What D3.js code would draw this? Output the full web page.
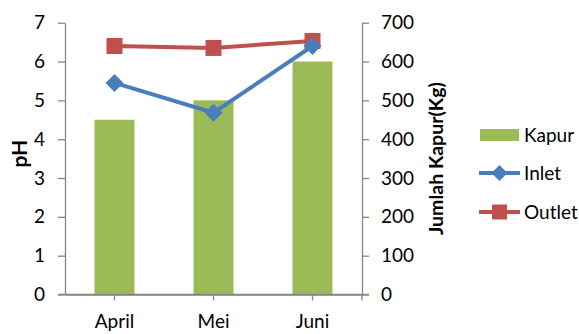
<!DOCTYPE html>
<html><head><meta charset="utf-8">
<script src="https://cdn.jsdelivr.net/npm/d3@7"></script>
<style>body{margin:0;background:#fff}svg{display:block}text{font-family:Lato,"Open Sans",sans-serif;fill:#000}</style>
</head><body><svg id="c" width="579" height="334"></svg>
<script>
const categories = ["April", "Mei", "Juni"];
const kapur = [450, 500, 600];
const inlet = [5.45, 4.68, 6.4];
const outlet = [6.4, 6.35, 6.53];
const phTicks = [0, 1, 2, 3, 4, 5, 6, 7];
const kgTicks = [0, 100, 200, 300, 400, 500, 600, 700];

const svg = d3.select("#c");
const L = 65, R = 362, T = 22.7, B = 294.5;
const x = d3.scaleBand().domain(categories).range([L, R]);
const yL = d3.scaleLinear().domain([0, 7]).range([B, T]);
const yR = d3.scaleLinear().domain([0, 700]).range([B, T]);
const grey = "#868686";
const fs = 19;

// bars
const bw = 40;
svg.selectAll("rect.bar").data(kapur).enter().append("rect")
  .attr("x", (d, i) => x(categories[i]) + x.bandwidth() / 2 - bw / 2)
  .attr("y", d => yR(d)).attr("width", bw).attr("height", d => B - yR(d))
  .attr("fill", "#9BBB59");

// axes
const axL = svg.append("g").attr("transform", `translate(${L},0)`)
  .call(d3.axisLeft(yL).tickValues(phTicks).tickFormat(d3.format("d")).tickSize(7).tickSizeOuter(0).tickPadding(13));
const axR = svg.append("g").attr("transform", `translate(${R},0)`)
  .call(d3.axisRight(yR).tickValues(kgTicks).tickFormat(d3.format("d")).tickSize(7).tickSizeOuter(0).tickPadding(12));
const axB = svg.append("g").attr("transform", `translate(0,${B})`)
  .call(d3.axisBottom(x).tickSize(6).tickSizeOuter(0).tickPadding(14));
[axL, axR, axB].forEach(g => {
  g.select(".domain").attr("stroke", grey).attr("stroke-width", 1.3);
  g.selectAll(".tick line").attr("stroke", grey).attr("stroke-width", 1.3);
  g.selectAll("text").attr("font-size", fs).attr("font-family", "Lato").attr("fill", "#000");
});
// extend x axis to tick ends
svg.append("line").attr("x1", L - 7).attr("x2", R + 7).attr("y1", B).attr("y2", B)
  .attr("stroke", grey).attr("stroke-width", 1.3);
svg.append("line").attr("x1", R).attr("x2", R).attr("y1", B).attr("y2", B + 6)
  .attr("stroke", grey).attr("stroke-width", 1.3);

// axis titles
svg.append("text").attr("transform", `translate(20,${(T + B) / 2 - 5}) rotate(-90)`)
  .attr("text-anchor", "middle").attr("dy", "0.35em").attr("font-size", 21).attr("font-weight", "bold").text("pH");
svg.append("text").attr("transform", `translate(436,${(T + B) / 2}) rotate(-90)`)
  .attr("text-anchor", "middle").attr("dy", "0.35em").attr("font-size", 19.5).attr("font-weight", "bold").text("Jumlah Kapur(Kg)");

// lines
const cx = i => x(categories[i]) + x.bandwidth() / 2;
const line = d3.line().x((d, i) => cx(i)).y(d => yL(d));
const diamond = h => `M0,${-h}L${h},0L0,${h}L${-h},0Z`;
svg.append("path").datum(outlet).attr("d", line).attr("fill", "none")
  .attr("stroke", "#C0504D").attr("stroke-width", 4);
svg.selectAll("rect.om").data(outlet).enter().append("rect")
  .attr("x", (d, i) => cx(i) - 8).attr("y", d => yL(d) - 8).attr("width", 16).attr("height", 16)
  .attr("fill", "#C0504D");
svg.append("path").datum(inlet).attr("d", line).attr("fill", "none")
  .attr("stroke", "#4A7EBB").attr("stroke-width", 4);
svg.selectAll("path.im").data(inlet).enter().append("path")
  .attr("d", diamond(9)).attr("transform", (d, i) => `translate(${cx(i)},${yL(d)})`)
  .attr("fill", "#4A7EBB");

// legend
const lg = svg.append("g");
lg.append("rect").attr("x", 480).attr("y", 129).attr("width", 39).attr("height", 12).attr("fill", "#9BBB59");
lg.append("text").attr("x", 524).attr("y", 135).attr("dy", "0.35em").attr("font-size", fs).text("Kapur");
lg.append("line").attr("x1", 479).attr("x2", 520).attr("y1", 173).attr("y2", 173).attr("stroke", "#4A7EBB").attr("stroke-width", 4);
lg.append("path").attr("d", diamond(8)).attr("transform", "translate(499.5,173)").attr("fill", "#4A7EBB");
lg.append("text").attr("x", 524).attr("y", 173).attr("dy", "0.35em").attr("font-size", fs).text("Inlet");
lg.append("line").attr("x1", 479).attr("x2", 520).attr("y1", 212).attr("y2", 212).attr("stroke", "#C0504D").attr("stroke-width", 4);
lg.append("rect").attr("x", 492).attr("y", 204.5).attr("width", 15).attr("height", 15).attr("fill", "#C0504D");
lg.append("text").attr("x", 524).attr("y", 212).attr("dy", "0.35em").attr("font-size", fs).text("Outlet");
</script></body></html>
